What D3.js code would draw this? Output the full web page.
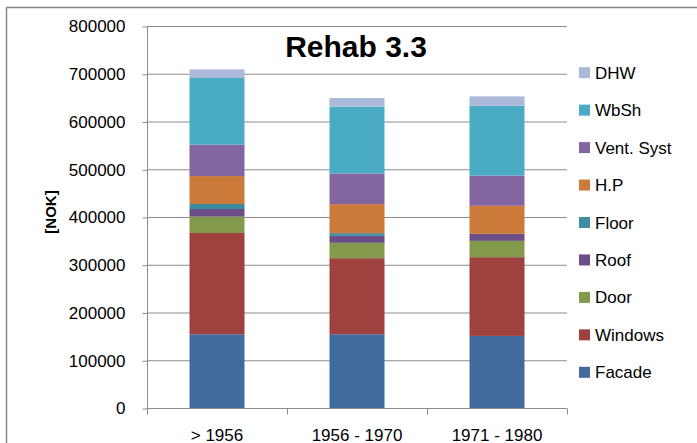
<!DOCTYPE html>
<html>
<head>
<meta charset="utf-8">
<script src="https://cdn.jsdelivr.net/npm/d3@7"></script>
<style>
  html, body { margin: 0; padding: 0; background: #ffffff; }
  svg { display: block; }
  text { font-family: "Liberation Sans", Arial, sans-serif; fill: #000; }
</style>
</head>
<body>
<svg id="chart" width="697" height="443"></svg>
<script>
// ---- Data ----
const categories = ["> 1956", "1956 - 1970", "1971 - 1980"];
const seriesNames = ["Facade", "Windows", "Door", "Roof", "Floor", "H.P", "Vent. Syst", "WbSh", "DHW"];
const facade   = [155500, 155500, 152000];
const windows  = [212000, 159300, 164900];
const door     = [34200, 32100, 34200];
const roof     = [16100, 14700, 14700];
const floor    = [10500, 5600, 0];
const hp       = [58500, 60800, 58700];
const ventSyst = [65600, 64200, 63500];
const wbSh     = [139800, 139800, 146100];
const dhw      = [18000, 18200, 19500];
const yTicks   = [0, 100000, 200000, 300000, 400000, 500000, 600000, 700000, 800000];
const colors   = ["#416A9D", "#9E413F", "#83994B", "#6A4E85", "#3D8CA1", "#CC7A39", "#8265A1", "#4AABC5", "#AAB9D9"];
const title    = "Rehab 3.3";
const yTitle   = "[NOK]";

const seriesValues = [facade, windows, door, roof, floor, hp, ventSyst, wbSh, dhw];
const table = categories.map((c, i) => {
  const row = { category: c };
  seriesNames.forEach((s, j) => row[s] = seriesValues[j][i]);
  return row;
});

const svg = d3.select("#chart");

// outer chart border
svg.append("rect")
  .attr("x", 6.5).attr("y", 7.5)
  .attr("width", 697).attr("height", 443)
  .attr("fill", "#fff").attr("stroke", "#868686").attr("stroke-width", 1.5);

const plotLeft = 147, plotRight = 567;
const y = d3.scaleLinear().domain([0, 800000]).range([408.5, 26.5]);
const x = d3.scaleBand().domain(categories).range([plotLeft, plotRight]).paddingInner(0).paddingOuter(0);
const barW = 55;

// gridlines
svg.append("g").selectAll("line").data(yTicks.filter(d => d > 0)).join("line")
  .attr("x1", plotLeft).attr("x2", plotRight)
  .attr("y1", d => y(d)).attr("y2", d => y(d))
  .attr("stroke", "#8c8c8c").attr("stroke-width", 1);

// stacked bars
const stack = d3.stack().keys(seriesNames)(table);
svg.append("g").selectAll("g").data(stack).join("g")
  .attr("fill", (d, i) => colors[i])
  .selectAll("rect").data(d => d).join("rect")
  .attr("x", d => x(d.data.category) + (x.bandwidth() - barW) / 2)
  .attr("width", barW)
  .attr("y", d => y(d[1]))
  .attr("height", d => Math.max(0, y(d[0]) - y(d[1])));

// y axis
const yAxis = d3.axisLeft(y).tickValues(yTicks).tickSize(5).tickPadding(17).tickFormat(d3.format("d"));
const gy = svg.append("g").attr("transform", `translate(${plotLeft + 0.5},0)`).call(yAxis);
gy.select(".domain").attr("stroke", "#8c8c8c").attr("d", `M0,${y(800000)}V${y(0)}`);
gy.selectAll(".tick line").attr("stroke", "#8c8c8c");
gy.selectAll(".tick text").attr("font-size", 17).attr("font-family", "Liberation Sans, Arial, sans-serif").attr("fill", "#000");

// x axis
const gx = svg.append("g").attr("transform", `translate(0,${y(0)})`);
gx.append("line").attr("x1", plotLeft).attr("x2", plotRight).attr("y1", 0).attr("y2", 0).attr("stroke", "#8c8c8c");
const bounds = [plotLeft].concat(categories.map(c => x(c) + x.bandwidth()));
gx.selectAll("line.tk").data(bounds).join("line").attr("class", "tk")
  .attr("x1", d => Math.round(d) + 0.5).attr("x2", d => Math.round(d) + 0.5)
  .attr("y1", 0).attr("y2", 6).attr("stroke", "#8c8c8c");
gx.selectAll("text").data(categories).join("text")
  .attr("x", d => x(d) + x.bandwidth() / 2)
  .attr("y", 32)
  .attr("text-anchor", "middle")
  .attr("font-size", 17)
  .text(d => d);

// title
svg.append("text").attr("x", 356).attr("y", 57).attr("text-anchor", "middle")
  .attr("font-size", 30).attr("font-weight", "bold").text(title);

// y title
svg.append("text").attr("transform", "translate(56,212) rotate(-90)")
  .attr("text-anchor", "middle").attr("font-size", 15).attr("font-weight", "bold").text(yTitle);

// legend (top to bottom: reverse order)
const legendItems = seriesNames.map((s, i) => ({ name: s, color: colors[i] })).reverse();
const lg = svg.append("g").selectAll("g").data(legendItems).join("g")
  .attr("transform", (d, i) => `translate(579,${72.7 + i * 37.45})`);
lg.append("rect").attr("x", 0).attr("y", -5.5).attr("width", 11).attr("height", 11).attr("fill", d => d.color);
lg.append("text").attr("x", 16).attr("y", 6).attr("font-size", 17).text(d => d.name);
</script>
</body>
</html>
